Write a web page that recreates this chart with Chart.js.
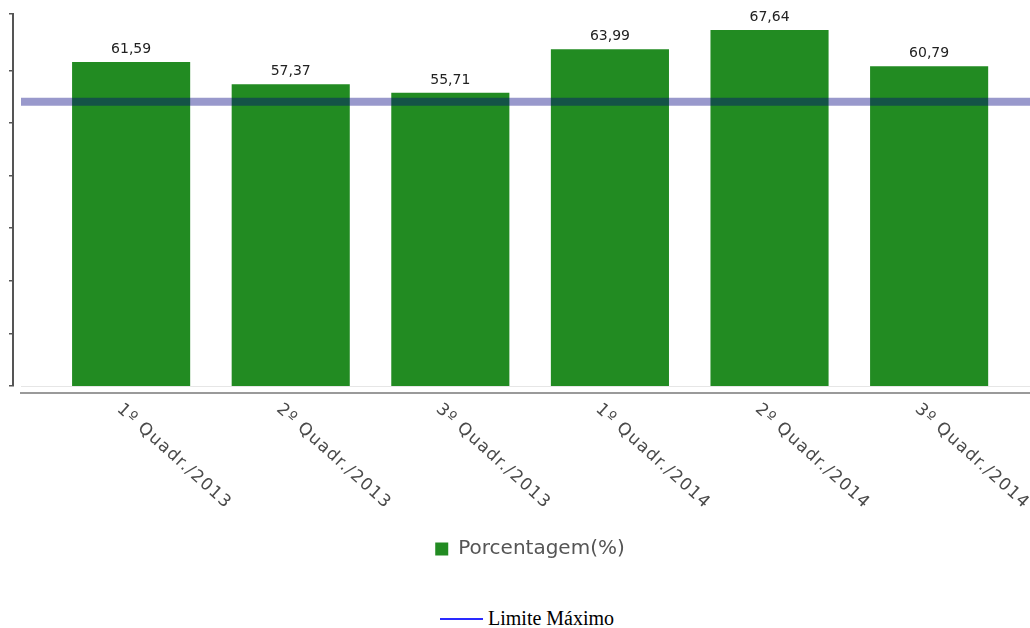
<!DOCTYPE html>
<html>
<head>
<meta charset="utf-8">
<script src="https://cdn.jsdelivr.net/npm/chart.js@4/dist/chart.umd.min.js"></script>
<style>
  html, body { margin: 0; padding: 0; background: #fff; overflow: hidden; width: 1030px; height: 628px; }
  #chart { display: block; }
  .limit-legend { position: absolute; left: 440px; top: 607px; display: flex; align-items: center; font-family: "Liberation Serif", serif; font-size: 20px; color: #000; }
  .limit-legend .swatch { width: 43px; height: 2px; background: #2a2aff; margin-right: 5px; }
</style>
</head>
<body>
<canvas id="chart" width="1060" height="569"></canvas>
<div class="limit-legend"><span class="swatch"></span><span>Limite Máximo</span></div>
<script>
const categories = ['1º Quadr./2013', '2º Quadr./2013', '3º Quadr./2013', '1º Quadr./2014', '2º Quadr./2014', '3º Quadr./2014'];
const percentages = [61.59, 57.37, 55.71, 63.99, 67.64, 60.79];
const limitValue = 54;
const yTicks = [0, 10, 20, 30, 40, 50, 60, 70.7];
const xMin = -0.69;
const xMax = 5.82;

const barData = percentages.map((v, i) => ({ x: i, y: v }));
const limitData = [{ x: 0, y: limitValue }, { x: 1, y: limitValue }];
const categoryTicks = () => categories.map((c, i) => ({ value: i }));

// value labels above each bar
const valueLabels = {
  id: 'valueLabels',
  afterDatasetsDraw(chart) {
    const { ctx } = chart;
    const meta = chart.getDatasetMeta(0);
    ctx.save();
    ctx.font = '14px "DejaVu Sans"';
    ctx.fillStyle = '#222';
    ctx.textAlign = 'center';
    ctx.textBaseline = 'bottom';
    meta.data.forEach((bar, i) => {
      ctx.fillText(percentages[i].toFixed(2).replace('.', ','), bar.x, bar.y - 6);
    });
    ctx.restore();
  },
};

// rotated category labels (clockwise, starting at the tick)
const slantedLabels = {
  id: 'slantedLabels',
  afterDraw(chart) {
    const { ctx } = chart;
    const xScale = chart.scales.x;
    const top = chart.scales.xAxis.top;
    ctx.save();
    ctx.font = '17px "DejaVu Sans"';
    ctx.fillStyle = '#4a4a4a';
    ctx.letterSpacing = '1.3px';
    ctx.textAlign = 'left';
    ctx.textBaseline = 'middle';
    categories.forEach((label, i) => {
      ctx.save();
      ctx.translate(xScale.getPixelForValue(i) - 12, top + 14);
      ctx.rotate((42 * Math.PI) / 180);
      ctx.fillText(label, 0, 0);
      ctx.restore();
    });
    ctx.restore();
  },
};

new Chart(document.getElementById('chart'), {
  type: 'bar',
  data: {
    datasets: [
      {
        label: 'Porcentagem(%)',
        data: barData,
        backgroundColor: '#228b22',
        borderWidth: 0,
        grouped: false,
        barPercentage: 0.925,
        categoryPercentage: 0.8,
        order: 1,
      },
      {
        type: 'line',
        label: 'Limite Máximo',
        data: limitData,
        xAxisID: 'x2',
        borderColor: 'rgba(0, 0, 128, 0.4)',
        borderWidth: 8,
        pointRadius: 0,
        order: 0,
      },
    ],
  },
  options: {
    responsive: false,
    animation: false,
    layout: { padding: { top: 14, left: 0, right: 0, bottom: 0 } },
    scales: {
      x: {
        type: 'linear',
        position: 'bottom',
        min: xMin,
        max: xMax,
        offset: false,
        weight: 0,
        afterBuildTicks: (scale) => { scale.ticks = categoryTicks(); },
        ticks: { display: false },
        grid: { display: false, drawTicks: false, offset: false },
        border: { display: true, color: '#e6e6e6', width: 1 },
        afterFit: (scale) => { scale.height = 7; },
      },
      xAxis: {
        type: 'linear',
        position: 'bottom',
        min: xMin,
        max: xMax,
        offset: false,
        weight: 1,
        afterBuildTicks: (scale) => { scale.ticks = categoryTicks(); },
        ticks: { display: false },
        grid: { drawOnChartArea: false, drawTicks: false, offset: false },
        border: { display: true, color: '#9a9a9a', width: 2 },
        afterFit: (scale) => { scale.height = 136; },
      },
      x2: { type: 'linear', display: false, offset: false, grid: { offset: false }, min: 0, max: 1 },
      y: {
        position: 'left',
        min: 0,
        max: yTicks[yTicks.length - 1],
        weight: 0,
        ticks: { display: false },
        grid: { display: false, drawTicks: false },
        border: { display: false },
        afterFit: (scale) => { scale.width = 8; },
      },
      yAxis: {
        position: 'left',
        min: 0,
        max: yTicks[yTicks.length - 1],
        weight: 1,
        afterBuildTicks: (scale) => { scale.ticks = yTicks.map((v) => ({ value: v })); },
        ticks: { display: false },
        grid: { drawOnChartArea: false, drawTicks: true, tickLength: 4, color: '#555', lineWidth: 1.5 },
        border: { display: true, color: '#555', width: 2 },
        afterFit: (scale) => { scale.width = 13; },
      },
    },
    plugins: {
      tooltip: { enabled: false },
      legend: {
        position: 'bottom',
        labels: {
          filter: (item) => item.datasetIndex === 0,
          boxWidth: 13,
          boxHeight: 13,
          color: '#555',
          font: { family: 'DejaVu Sans', size: 20 },
        },
      },
    },
  },
  plugins: [valueLabels, slantedLabels],
});
</script>
</body>
</html>
